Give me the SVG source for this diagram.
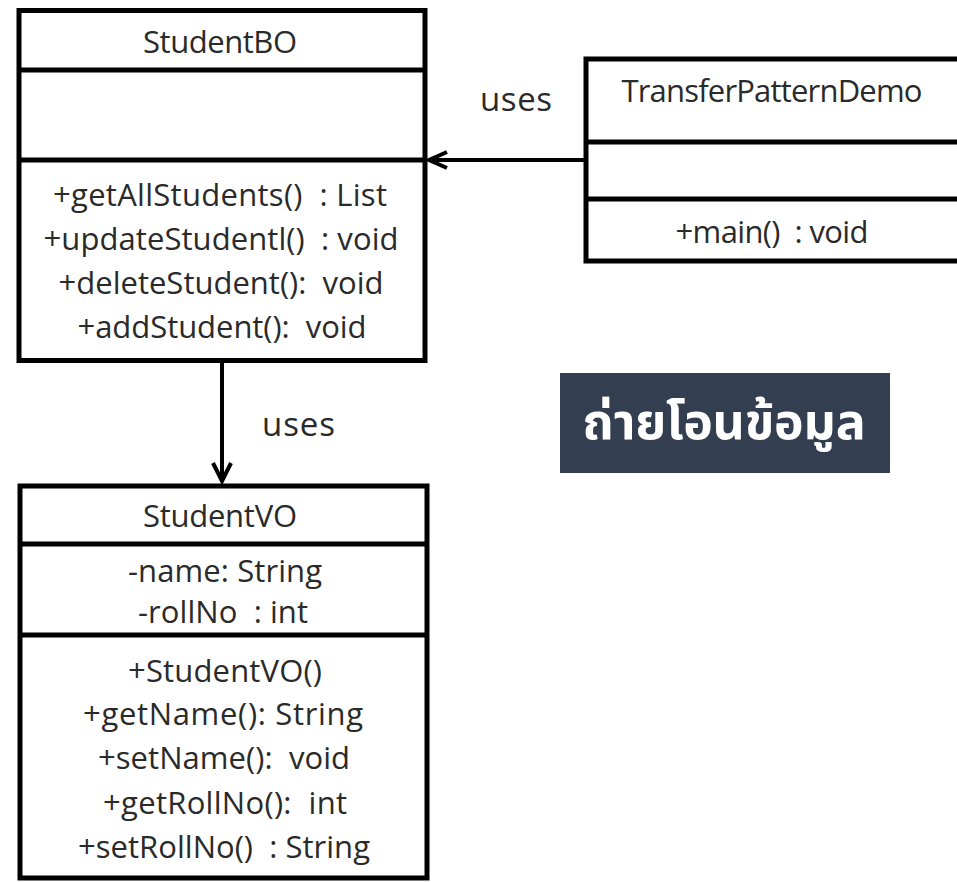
<svg xmlns="http://www.w3.org/2000/svg" width="957" height="882" viewBox="0 0 957 882">
<style>
.box{fill:#fff;stroke:#000;stroke-width:5}
.div{stroke:#000;stroke-width:5}
.t{font-family:"Open Sans","Liberation Sans",sans-serif;font-size:31px;fill:#2a2a2a;text-anchor:middle;white-space:pre}
.lbl{font-family:"Open Sans","Liberation Sans",sans-serif;font-size:33px;fill:#2a2a2a;white-space:pre}
.con{stroke:#000;stroke-width:4;fill:none}
.thai{font-family:"Noto Sans Thai","Noto Sans","DejaVu Sans",sans-serif;font-size:50px;font-weight:bold;fill:#fff;text-anchor:middle}
</style>
<rect width="957" height="882" fill="#fff"/>
<g id="StudentBO">
<rect class="box" x="19" y="10.5" width="406" height="350"/>
<line class="div" x1="19" y1="70" x2="425" y2="70"/>
<line class="div" x1="19" y1="160" x2="425" y2="160"/>
<text class="t" x="220" y="53" textLength="154" lengthAdjust="spacing">StudentBO</text>
<text class="t" x="220" y="206" textLength="334" lengthAdjust="spacing">+getAllStudents()  : List</text>
<text class="t" x="221" y="250" textLength="355" lengthAdjust="spacing">+updateStudentl()  : void</text>
<text class="t" x="221" y="294" textLength="325" lengthAdjust="spacing">+deleteStudent():  void</text>
<text class="t" x="222" y="338" textLength="289" lengthAdjust="spacing">+addStudent():  void</text>
</g>
<g id="TransferPatternDemo">
<rect class="box" x="586" y="59" width="390" height="202"/>
<line class="div" x1="586" y1="142" x2="976" y2="142"/>
<line class="div" x1="586" y1="199" x2="976" y2="199"/>
<text class="t" x="772" y="102" textLength="301" lengthAdjust="spacing">TransferPatternDemo</text>
<text class="t" x="772" y="243" textLength="193" lengthAdjust="spacing">+main()  : void</text>
</g>
<g id="StudentVO">
<rect class="box" x="20" y="486" width="407" height="392"/>
<line class="div" x1="20" y1="544" x2="427" y2="544"/>
<line class="div" x1="20" y1="635" x2="427" y2="635"/>
<text class="t" x="220" y="527" textLength="154" lengthAdjust="spacing">StudentVO</text>
<text class="t" x="225" y="582" textLength="194" lengthAdjust="spacing">-name: String</text>
<text class="t" x="223" y="623" textLength="170" lengthAdjust="spacing">-rollNo  : int</text>
<text class="t" x="225" y="682" textLength="194" lengthAdjust="spacing">+StudentVO()</text>
<text class="t" x="223" y="725" textLength="280" lengthAdjust="spacing">+getName(): String</text>
<text class="t" x="224" y="769" textLength="252" lengthAdjust="spacing">+setName():  void</text>
<text class="t" x="225" y="814" textLength="244" lengthAdjust="spacing">+getRollNo():  int</text>
<text class="t" x="224" y="858" textLength="292" lengthAdjust="spacing">+setRollNo()  : String</text>
</g>
<g id="connectors">
<line class="con" x1="586" y1="160" x2="430" y2="160"/>
<polyline class="con" points="447,152 429,160 447,168"/>
<line class="con" x1="222" y1="362" x2="222" y2="482"/>
<polyline class="con" points="213,463 222,481 231,463"/>
<text class="lbl" x="480" y="111" textLength="72" lengthAdjust="spacing">uses</text>
<text class="lbl" x="262" y="436" textLength="73" lengthAdjust="spacing">uses</text>
</g>
<g id="banner">
<rect x="560" y="373" width="330" height="100" fill="#333f50"/>
<text class="thai" x="724" y="439" textLength="283" lengthAdjust="spacing">ถ่ายโอนข้อมูล</text>
</g>
</svg>
